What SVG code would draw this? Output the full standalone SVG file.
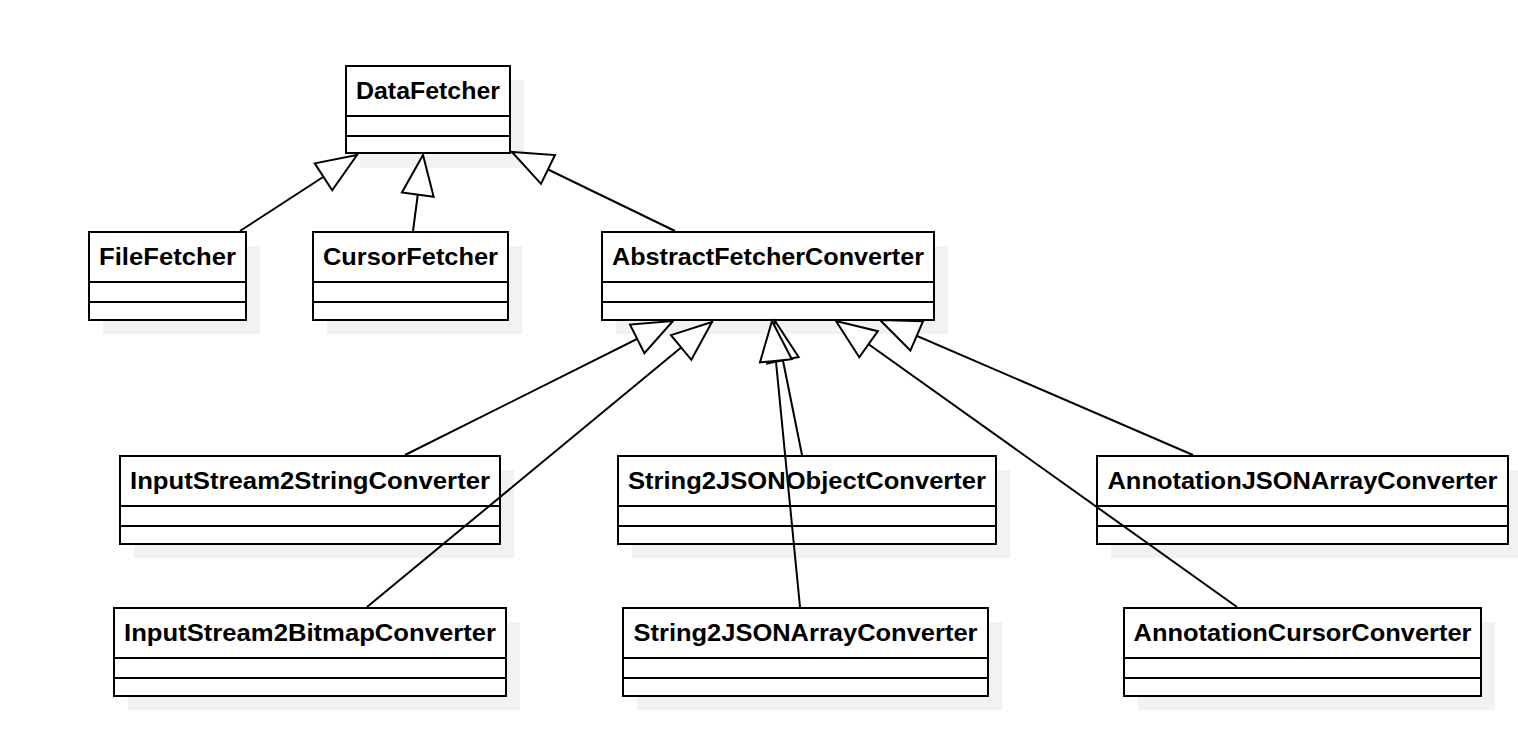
<svg xmlns="http://www.w3.org/2000/svg" width="1518" height="730" viewBox="0 0 1518 730">
<style>
.shadow{fill:#f2f2f2;stroke:none}
.box{fill:#fff;stroke:#000;stroke-width:2}
.div{stroke:#000;stroke-width:2}
.t{font-family:"Liberation Sans",Arial,sans-serif;font-weight:bold;font-size:23px;fill:#000;text-anchor:middle}
.c{stroke:#000;stroke-width:2;fill:none;marker-end:url(#gen)}
</style>
<defs>
<marker id="gen" markerUnits="userSpaceOnUse" viewBox="-43 -18 46 36" markerWidth="46" markerHeight="36" refX="0" refY="0" orient="auto">
<path d="M0,0 L-40,-16 L-40,16 Z" fill="#fff" stroke="#000" stroke-width="2" stroke-linejoin="miter"/>
</marker>
</defs>
<rect width="1518" height="730" fill="#fff"/>
<g id="DataFetcher">
<rect class="shadow" x="360" y="80" width="164" height="88"/>
<rect class="box" x="346" y="66" width="164" height="87"/>
<line class="div" x1="346" y1="116" x2="510" y2="116"/>
<line class="div" x1="346" y1="136" x2="510" y2="136"/>
<text class="t" x="428" y="99" textLength="144" lengthAdjust="spacingAndGlyphs">DataFetcher</text>
</g>
<g id="FileFetcher">
<rect class="shadow" x="103" y="246" width="157" height="88"/>
<rect class="box" x="89" y="232" width="157" height="88"/>
<line class="div" x1="89" y1="282" x2="246" y2="282"/>
<line class="div" x1="89" y1="302" x2="246" y2="302"/>
<text class="t" x="167.5" y="265" textLength="137" lengthAdjust="spacingAndGlyphs">FileFetcher</text>
</g>
<g id="CursorFetcher">
<rect class="shadow" x="327" y="246" width="195" height="88"/>
<rect class="box" x="313" y="232" width="195" height="88"/>
<line class="div" x1="313" y1="282" x2="508" y2="282"/>
<line class="div" x1="313" y1="302" x2="508" y2="302"/>
<text class="t" x="410.5" y="265" textLength="175" lengthAdjust="spacingAndGlyphs">CursorFetcher</text>
</g>
<g id="AbstractFetcherConverter">
<rect class="shadow" x="616" y="246" width="332" height="88"/>
<rect class="box" x="602" y="232" width="332" height="88"/>
<line class="div" x1="602" y1="282" x2="934" y2="282"/>
<line class="div" x1="602" y1="302" x2="934" y2="302"/>
<text class="t" x="768" y="265" textLength="312" lengthAdjust="spacingAndGlyphs">AbstractFetcherConverter</text>
</g>
<g id="InputStream2StringConverter">
<rect class="shadow" x="134" y="470" width="380" height="88"/>
<rect class="box" x="120" y="456" width="380" height="88"/>
<line class="div" x1="120" y1="506" x2="500" y2="506"/>
<line class="div" x1="120" y1="526" x2="500" y2="526"/>
<text class="t" x="310" y="489" textLength="360" lengthAdjust="spacingAndGlyphs">InputStream2StringConverter</text>
</g>
<g id="String2JSONObjectConverter">
<rect class="shadow" x="632" y="470" width="378" height="88"/>
<rect class="box" x="618" y="456" width="378" height="88"/>
<line class="div" x1="618" y1="506" x2="996" y2="506"/>
<line class="div" x1="618" y1="526" x2="996" y2="526"/>
<text class="t" x="807" y="489" textLength="358" lengthAdjust="spacingAndGlyphs">String2JSONObjectConverter</text>
</g>
<g id="AnnotationJSONArrayConverter">
<rect class="shadow" x="1111" y="470" width="407" height="88"/>
<rect class="box" x="1097" y="456" width="411" height="88"/>
<line class="div" x1="1097" y1="506" x2="1508" y2="506"/>
<line class="div" x1="1097" y1="526" x2="1508" y2="526"/>
<text class="t" x="1302.5" y="489" textLength="390" lengthAdjust="spacingAndGlyphs">AnnotationJSONArrayConverter</text>
</g>
<g id="InputStream2BitmapConverter">
<rect class="shadow" x="128" y="622" width="392" height="88"/>
<rect class="box" x="114" y="608" width="392" height="88"/>
<line class="div" x1="114" y1="658" x2="506" y2="658"/>
<line class="div" x1="114" y1="678" x2="506" y2="678"/>
<text class="t" x="310" y="641" textLength="372" lengthAdjust="spacingAndGlyphs">InputStream2BitmapConverter</text>
</g>
<g id="String2JSONArrayConverter">
<rect class="shadow" x="637" y="622" width="365" height="88"/>
<rect class="box" x="623" y="608" width="365" height="88"/>
<line class="div" x1="623" y1="658" x2="988" y2="658"/>
<line class="div" x1="623" y1="678" x2="988" y2="678"/>
<text class="t" x="805.5" y="641" textLength="344" lengthAdjust="spacingAndGlyphs">String2JSONArrayConverter</text>
</g>
<g id="AnnotationCursorConverter">
<rect class="shadow" x="1138" y="622" width="357" height="88"/>
<rect class="box" x="1124" y="608" width="357" height="88"/>
<line class="div" x1="1124" y1="658" x2="1481" y2="658"/>
<line class="div" x1="1124" y1="678" x2="1481" y2="678"/>
<text class="t" x="1302.5" y="641" textLength="338" lengthAdjust="spacingAndGlyphs">AnnotationCursorConverter</text>
</g>
<g id="connectors">
<line class="c" x1="240" y1="231" x2="357" y2="155"/>
<line class="c" x1="413" y1="231" x2="423" y2="155"/>
<line class="c" x1="675" y1="231" x2="512" y2="152"/>
<line class="c" x1="405" y1="455" x2="673" y2="321"/>
<line class="c" x1="367" y1="607" x2="712" y2="322"/>
<line class="c" x1="802" y1="455" x2="775" y2="321"/>
<line class="c" x1="800" y1="607" x2="772" y2="321"/>
<line class="c" x1="1237" y1="607" x2="836" y2="321"/>
<line class="c" x1="1193" y1="455" x2="880" y2="320"/>
</g>
</svg>
